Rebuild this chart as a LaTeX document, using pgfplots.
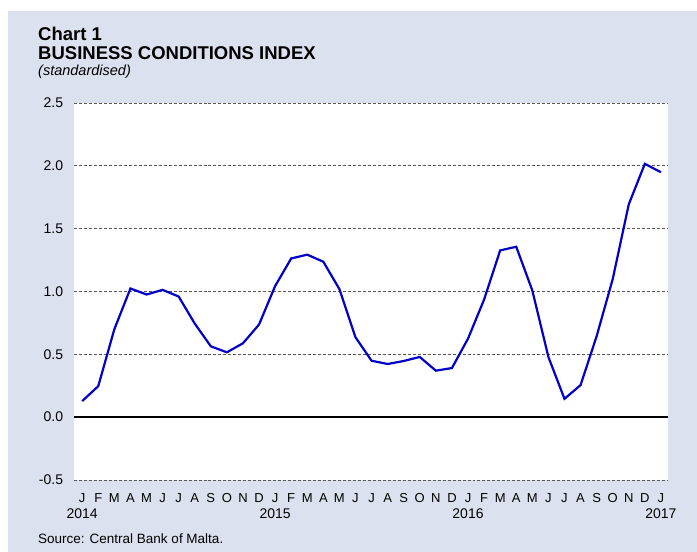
\documentclass[border=0pt]{standalone}
\usepackage{fontspec}
\setmainfont{Liberation Sans}
\usepackage{pgfplots}
\pgfplotsset{compat=1.18}
\definecolor{panelbg}{RGB}{219,225,238}
\definecolor{bcline}{RGB}{0,0,200}
\begin{document}
\begin{tikzpicture}
% page and panel
\fill[white] (0,0) rectangle (697bp,552bp);
\fill[panelbg] (8bp,0) rectangle (697bp,541bp);
% titles
\node[anchor=base west,inner sep=0pt,font=\fontsize{18.5bp}{21bp}\selectfont\bfseries] at (38bp,511bp) {Chart 1};
\node[anchor=base west,inner sep=0pt,font=\fontsize{18.5bp}{21bp}\selectfont\bfseries] at (38bp,492bp) {BUSINESS CONDITIONS INDEX};
\node[anchor=base west,inner sep=0pt,font=\fontsize{14.5bp}{17bp}\selectfont\itshape] at (38bp,476bp) {(standardised)};
\node[anchor=base west,inner sep=0pt,font=\fontsize{13.5bp}{16bp}\selectfont] at (38bp,9bp) {Source: Central Bank of Malta.};
\begin{axis}[
  at={(74bp,72bp)},anchor=south west,
  width=594bp,height=377bp,scale only axis,
  axis background/.style={fill=white},
  axis line style={draw=none},
  tick style={draw=none},
  xmin=-0.51,xmax=36.44,
  ymin=-0.5,ymax=2.5,
  ytick={-0.5,0,0.5,1,1.5,2,2.5},
  yticklabels={-0.5,0.0,0.5,1.0,1.5,2.0,2.5},
  yticklabel style={anchor=east,inner sep=0pt,xshift=-10.7bp,font=\fontsize{14bp}{16bp}\selectfont},
  ymajorgrids,
  grid style={densely dashed,black!65,line width=0.7bp},
  extra y ticks={0},
  extra y tick labels={},
  extra y tick style={grid style={solid,black,line width=1.6bp}},
  xtick={0,...,36},
  xticklabels={J,F,M,A,M,J,J,A,S,O,N,D,J,F,M,A,M,J,J,A,S,O,N,D,J,F,M,A,M,J,J,A,S,O,N,D,J},
  xticklabel style={anchor=north,inner sep=0pt,yshift=-13bp,font=\fontsize{13bp}{15bp}\selectfont},
  extra x ticks={0,12,24,36},
  extra x tick labels={2014,2015,2016,2017},
  extra x tick style={xticklabel style={yshift=-16bp,font=\fontsize{14bp}{16bp}\selectfont}},
]
\addplot[bcline,line width=2.2bp,mark=none] coordinates {
(0,0.128)(1,0.247)(2,0.700)(3,1.024)(4,0.976)(5,1.013)(6,0.960)(7,0.745)
(8,0.564)(9,0.516)(10,0.588)(11,0.737)(12,1.043)(13,1.263)(14,1.293)(15,1.237)
(16,1.019)(17,0.636)(18,0.449)(19,0.423)(20,0.447)(21,0.479)(22,0.370)(23,0.391)
(24,0.625)(25,0.936)(26,1.327)(27,1.356)(28,1.008)(29,0.479)(30,0.146)(31,0.255)
(32,0.644)(33,1.098)(34,1.694)(35,2.016)(36,1.949)};
\end{axis}
\end{tikzpicture}
\end{document}
